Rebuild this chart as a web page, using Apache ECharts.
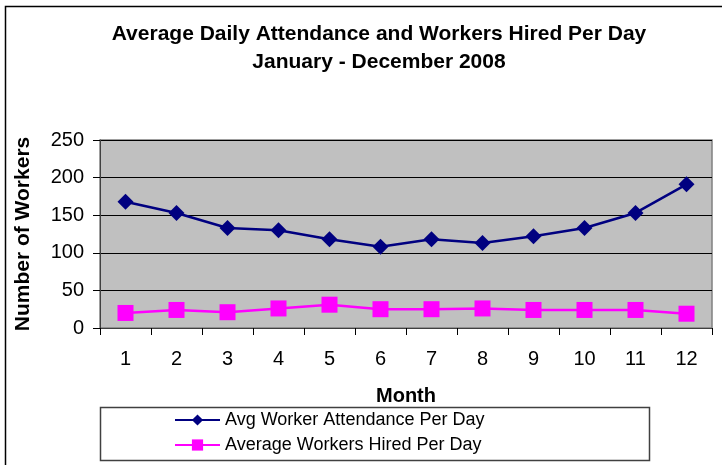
<!DOCTYPE html>
<html>
<head>
<meta charset="utf-8">
<script src="https://cdn.jsdelivr.net/npm/echarts@6/dist/echarts.min.js"></script>
<style>
  html, body { margin: 0; padding: 0; background: #fff; }
  #chart { width: 722px; height: 465px; }
</style>
</head>
<body>
<div id="chart"></div>
<script>
  // months on the x axis
  const months = ['1', '2', '3', '4', '5', '6', '7', '8', '9', '10', '11', '12'];
  // avg worker attendance per day
  const attendance = [168, 153, 133, 130, 118, 108, 118, 113, 122, 133, 153, 191];
  // average workers hired per day
  const hired = [20, 24, 21, 26, 31, 25, 25, 26, 24, 24, 24, 19];

  const font = 'Arial, "Liberation Sans", sans-serif';
  const myChart = echarts.init(document.getElementById('chart'));

  myChart.setOption({
    animation: false,
    textStyle: { fontFamily: font },
    title: {
      text: 'Average Daily Attendance and Workers Hired Per Day\nJanuary - December 2008',
      left: 379,
      top: 20,
      padding: 0,
      textAlign: 'center',
      textStyle: {
        fontFamily: font,
        fontSize: 21,
        fontWeight: 'bold',
        color: '#000',
        lineHeight: 28
      }
    },
    grid: {
      left: 100,
      top: 140,
      right: 10,
      bottom: 137,
      show: true,
      backgroundColor: '#c0c0c0',
      borderColor: '#808080',
      borderWidth: 1.5
    },
    legend: {
      orient: 'vertical',
      left: 174,
      top: 411,
      padding: 0,
      itemWidth: 45,
      itemHeight: 14,
      itemGap: 7,
      textStyle: { fontFamily: font, fontSize: 18, color: '#000' },
      data: ['Avg Worker Attendance Per Day', 'Average Workers Hired Per Day']
    },
    xAxis: {
      type: 'category',
      data: months,
      boundaryGap: true,
      name: 'Month',
      nameLocation: 'middle',
      nameGap: 58,
      nameTextStyle: { fontFamily: font, fontSize: 20, fontWeight: 'bold', color: '#000' },
      axisLine: { lineStyle: { color: '#404040', width: 1 } },
      axisTick: { show: true, length: 7, inside: false, lineStyle: { color: '#000' } },
      axisLabel: { margin: 21, fontSize: 20, color: '#000', fontFamily: font },
      splitLine: { show: false }
    },
    yAxis: {
      type: 'value',
      min: 0,
      max: 250,
      interval: 50,
      name: 'Number of Workers',
      nameLocation: 'middle',
      nameGap: 66,
      nameTextStyle: { fontFamily: font, fontSize: 21, fontWeight: 'bold', color: '#000' },
      axisLine: { show: true, lineStyle: { color: '#404040', width: 1 } },
      axisTick: { show: true, length: 7, lineStyle: { color: '#000' } },
      axisLabel: { margin: 16, fontSize: 20, color: '#000', fontFamily: font },
      splitLine: { show: true, lineStyle: { color: '#000', width: 1 } }
    },
    graphic: [
      {
        type: 'rect',
        shape: { x: 5.5, y: 6.5, width: 740, height: 480 },
        style: { fill: null, stroke: '#000', lineWidth: 1.5 },
        z: -1
      },
      {
        type: 'rect',
        shape: { x: 100.5, y: 407.5, width: 549, height: 53 },
        style: { fill: null, stroke: '#404040', lineWidth: 1.5 },
        z: -1
      }
    ],
    series: [
      {
        name: 'Avg Worker Attendance Per Day',
        type: 'line',
        data: attendance,
        symbol: 'diamond',
        symbolSize: 16,
        itemStyle: { color: '#000080' },
        lineStyle: { color: '#000080', width: 2.5 }
      },
      {
        name: 'Average Workers Hired Per Day',
        type: 'line',
        data: hired,
        symbol: 'rect',
        symbolSize: 16,
        itemStyle: { color: '#ff00ff' },
        lineStyle: { color: '#ff00ff', width: 2.5 }
      }
    ]
  });
</script>
</body>
</html>
